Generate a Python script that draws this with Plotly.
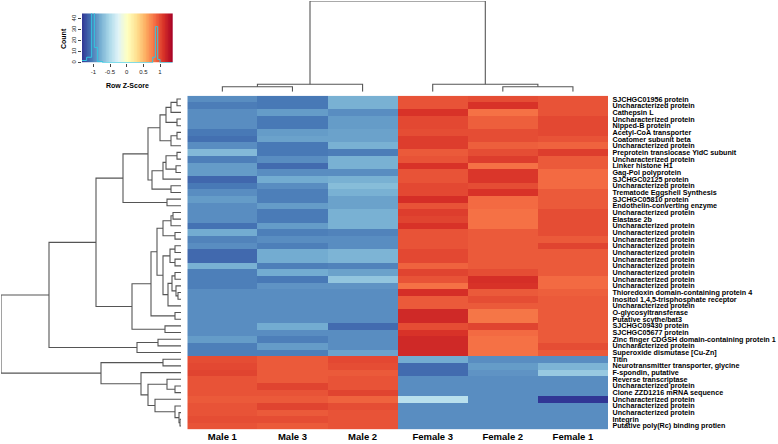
import plotly.graph_objects as go

W, H = 778, 444

samples = ["Male 1", "Male 3", "Male 2", "Female 3", "Female 2", "Female 1"]

genes = [
    "SJCHGC01956 protein", "Uncharacterized protein", "Cathepsin L", "Uncharacterized protein",
    "Nipped-B protein", "Acetyl-CoA transporter", "Coatomer subunit beta", "Uncharacterized protein",
    "Preprotein translocase YidC subunit", "Uncharacterized protein", "Linker histone H1",
    "Gag-Pol polyprotein", "SJCHGC02125 protein", "Uncharacterized protein",
    "Trematode Eggshell Synthesis", "SJCHGC05810 protein", "Endothelin-converting enzyme",
    "Uncharacterized protein", "Elastase 2b",
    "Uncharacterized protein", "Uncharacterized protein", "Uncharacterized protein",
    "Uncharacterized protein", "Uncharacterized protein", "Uncharacterized protein",
    "Uncharacterized protein", "Uncharacterized protein", "Uncharacterized protein",
    "Uncharacterized protein",
    "Thioredoxin domain-containing protein 4", "Inositol 1,4,5-trisphosphate receptor",
    "Uncharacterized protein", "O-glycosyltransferase", "Putative scythe/bat3",
    "SJCHGC09430 protein", "SJCHGC05677 protein", "Zinc finger CDGSH domain-containing protein 1",
    "Uncharacterized protein", "Superoxide dismutase [Cu-Zn]",
    "Titin", "Neurotransmitter transporter, glycine", "F-spondin, putative", "Reverse transcriptase",
    "Uncharacterized protein", "Clone ZZD1216 mRNA sequence", "Uncharacterized protein",
    "Uncharacterized protein", "Uncharacterized protein", "Integrin",
    "Putative poly(Rc) binding protien",
]

# Row z-scores (columns in display order: Male 1, Male 3, Male 2, Female 3, Female 2, Female 1)
zscores = [
    [-0.95, -1.05, -0.77, 0.95, 0.98, 0.95],
    [-1.03, -1.05, -0.77, 0.95, 1.10, 0.95],
    [-0.95, -0.88, -0.95, 1.10, 0.82, 0.95],
    [-0.95, -1.05, -0.88, 1.00, 0.90, 1.00],
    [-0.95, -1.05, -0.88, 1.00, 0.90, 1.00],
    [-1.05, -0.88, -0.85, 0.98, 0.98, 1.00],
    [-1.09, -0.85, -0.85, 1.05, 0.98, 0.95],
    [-0.95, -1.05, -0.77, 1.05, 0.90, 0.88],
    [-0.72, -1.05, -1.03, 0.92, 0.98, 1.05],
    [-1.02, -0.95, -0.77, 0.95, 1.05, 0.92],
    [-0.88, -1.11, -0.77, 1.10, 0.82, 0.92],
    [-0.88, -0.95, -0.95, 0.95, 1.08, 0.85],
    [-1.13, -0.80, -0.77, 0.95, 1.08, 0.85],
    [-1.05, -0.95, -0.70, 1.00, 0.98, 0.85],
    [-0.95, -1.02, -0.77, 1.00, 1.10, 0.92],
    [-0.88, -1.02, -0.85, 1.12, 0.85, 0.92],
    [-0.95, -0.88, -0.85, 0.95, 0.85, 0.92],
    [-0.95, -1.04, -0.77, 1.05, 0.82, 0.98],
    [-0.95, -1.04, -0.77, 1.02, 0.82, 0.98],
    [-1.08, -0.88, -0.77, 1.10, 0.82, 0.98],
    [-0.80, -1.02, -1.00, 0.95, 0.92, 0.98],
    [-1.00, -0.95, -0.95, 0.95, 0.92, 0.92],
    [-0.95, -1.02, -0.95, 0.95, 0.92, 1.02],
    [-1.12, -0.80, -0.75, 1.00, 0.92, 0.92],
    [-1.12, -0.80, -0.75, 1.00, 0.92, 0.92],
    [-0.77, -1.02, -1.00, 0.88, 0.92, 0.92],
    [-1.02, -0.80, -0.85, 1.02, 0.98, 0.92],
    [-1.02, -1.05, -0.65, 0.95, 1.12, 0.85],
    [-1.02, -0.92, -0.92, 0.82, 1.10, 0.85],
    [-0.95, -0.95, -0.95, 1.12, 0.92, 0.90],
    [-0.95, -0.95, -0.95, 0.92, 0.98, 0.92],
    [-0.95, -0.95, -0.95, 0.92, 0.92, 0.92],
    [-0.95, -0.95, -0.95, 1.15, 0.80, 0.92],
    [-0.95, -0.95, -0.95, 1.15, 0.80, 0.92],
    [-0.95, -0.80, -1.11, 0.98, 1.02, 0.92],
    [-0.95, -0.95, -0.95, 1.10, 0.85, 0.92],
    [-0.88, -1.02, -0.95, 1.15, 0.82, 0.92],
    [-1.02, -0.88, -0.95, 1.15, 0.82, 0.98],
    [-1.02, -1.02, -0.85, 1.15, 0.82, 0.92],
    [0.98, 0.92, 1.00, -0.80, -0.95, -0.95],
    [1.00, 0.92, 0.98, -1.11, -0.88, -0.75],
    [1.02, 0.92, 0.92, -1.11, -0.92, -0.62],
    [0.95, 0.92, 0.95, -0.95, -0.95, -0.95],
    [0.95, 1.02, 0.95, -0.95, -0.95, -0.95],
    [0.95, 0.95, 1.02, -0.95, -0.95, -0.95],
    [0.92, 0.92, 0.88, -0.45, -0.95, -1.35],
    [0.95, 1.02, 0.98, -0.95, -0.95, -0.95],
    [0.95, 0.92, 0.95, -0.95, -0.95, -0.95],
    [0.98, 0.98, 0.95, -0.95, -0.95, -0.95],
    [0.95, 0.92, 0.95, -0.95, -0.95, -0.95],
]

# Column dendrogram: [left, right, height]; leaves are 1-based display positions
col_tree = [[[1, 2, 0.5], 3, 0.74], [4, [5, 6, 0.5], 0.74], 9.07]

# Row dendrogram: [left, right, height]; leaves are 1-based row numbers
rows_1_15 = [[[[[1, 2, 0.4], 3, 1.0], [4, 5, 0.4], 1.5], [[6, 7, 0.4], 8, 1.0], 2.1],
             [[[[9, 10, 0.4], [11, 12, 0.5], 1.5], 13, 1.8], [14, 15, 1.0], 2.9], 3.3]
rows_1_17 = [rows_1_15, [16, 17, 1.4], 5.8]
rows_18_22 = [[[18, 19, 0.8], 20, 1.0], [21, 22, 0.6], 1.8]
rows_23_32 = [[[23, 24, 0.6], [25, 26, 0.6], 1.1],
              [[[27, 28, 0.6], [29, [30, 31, 0.3], 0.5], 0.9], 32, 1.3], 1.8]
rows_18_36 = [[[rows_18_22, rows_23_32, 2.4], [33, 34, 0.6], 3.0], [35, 36, 1.6], 4.9]
rows_37_39 = [[37, 38, 2.3], 39, 4.4]
rows_top = [[rows_1_17, rows_18_36, 8.5], rows_37_39, 13.2]
rows_46_50 = [46, [47, [48, [49, 50, 0.1], 0.2], 0.6], 2.6]
rows_40_50 = [[40, 41, 1.8], [42, [[43, [44, 45, 0.6], 1.4], rows_46_50, 3.3], 4.0], 8.0]
row_tree = [rows_top, rows_40_50, 18.0]

# Colour key histogram (step outline)
hist_edges = [-1.34, -1.2, -1.05, -0.97, -0.87, -0.72, 0.78, 0.86, 0.93, 1.0, 1.38]
hist_counts = [2, 5, 46, 14, 1, 0, 5, 33, 3, 0]
key_ticks = [-1, -0.5, 0, 0.5, 1]
count_ticks = [0, 10, 20, 30, 40]

ZMIN, ZMAX = -1.34, 1.38
rdylbu = ["#313695", "#4575b4", "#74add1", "#abd9e9", "#e0f3f8", "#ffffbf",
          "#fee090", "#fdae61", "#f46d43", "#d73027", "#a50026"]
cscale = [[i / (len(rdylbu) - 1), c] for i, c in enumerate(rdylbu)]

FONT = "Liberation Sans, Arial, sans-serif"


def fx(px):
    return px / W


def fy(py):
    return 1 - py / H


def dendro_segments(node, out):
    """Return (position, height) of node, appending rectangle segments (pos, height)."""
    if not isinstance(node, list):
        return float(node - 1), 0.0
    left, right, h = node
    p1, h1 = dendro_segments(left, out)
    p2, h2 = dendro_segments(right, out)
    out.append([(p1, h1), (p1, h), (p2, h), (p2, h2)])
    return (p1 + p2) / 2, h


fig = go.Figure()

# Main heatmap
fig.add_trace(go.Heatmap(
    z=zscores, x=list(range(len(samples))), y=list(range(len(genes))),
    zmin=ZMIN, zmax=ZMAX, colorscale=cscale, showscale=False,
    xaxis="x", yaxis="y", hoverinfo="skip",
))

# Column dendrogram
segs = []
dendro_segments(col_tree, segs)
xs, ys = [], []
for s in segs:
    for p, h in s:
        xs.append(p)
        ys.append(h)
    xs.append(None)
    ys.append(None)
fig.add_trace(go.Scatter(x=xs, y=ys, mode="lines", line=dict(color="#555555", width=1.1),
                         xaxis="x2", yaxis="y2", hoverinfo="skip", showlegend=False))

# Row dendrogram
segs = []
dendro_segments(row_tree, segs)
xs, ys = [], []
for s in segs:
    for p, h in s:
        xs.append(h)
        ys.append(p)
    xs.append(None)
    ys.append(None)
fig.add_trace(go.Scatter(x=xs, y=ys, mode="lines", line=dict(color="#555555", width=1.1),
                         xaxis="x3", yaxis="y3", hoverinfo="skip", showlegend=False))

# Colour key
nkey = 120
key_edges = [ZMIN + (ZMAX - ZMIN) * i / nkey for i in range(nkey + 1)]
key_vals = [(key_edges[i] + key_edges[i + 1]) / 2 for i in range(nkey)]
fig.add_trace(go.Heatmap(
    z=[key_vals], x=key_edges, y=[0, 45.2], zmin=ZMIN, zmax=ZMAX,
    colorscale=cscale, showscale=False, xaxis="x4", yaxis="y4", hoverinfo="skip",
))
fig.add_trace(go.Scatter(
    x=hist_edges, y=hist_counts + [hist_counts[-1]], mode="lines",
    line=dict(color="#33c7e0", width=1, shape="hv"),
    xaxis="x4", yaxis="y4", hoverinfo="skip", showlegend=False,
))

hm_x = [fx(187.3), fx(608)]
hm_y = [fy(429.3), fy(95.7)]

fig.update_layout(
    width=W, height=H, autosize=False,
    margin=dict(l=0, r=0, t=0, b=0, pad=0),
    paper_bgcolor="white", plot_bgcolor="white",
    showlegend=False,
    font=dict(family=FONT, color="black"),
    xaxis=dict(domain=hm_x, range=[-0.5, 5.5], tickmode="array", automargin=False,
               tickvals=list(range(len(samples))),
               ticktext=["<b>%s</b>" % s for s in samples],
               tickfont=dict(size=9.5, family=FONT, color="black"),
               ticks="", showgrid=False, zeroline=False, showline=False, fixedrange=True),
    yaxis=dict(domain=hm_y, range=[len(genes) - 0.5, -0.5], side="right", automargin=False,
               tickmode="array", tickvals=list(range(len(genes))),
               ticktext=["<b>%s</b>" % g for g in genes],
               tickfont=dict(size=7.2, family=FONT, color="black"),
               ticks="outside", ticklen=2, tickcolor="rgba(0,0,0,0)",
               showgrid=False, zeroline=False, showline=False, fixedrange=True),
    xaxis2=dict(domain=hm_x, range=[-0.5, 5.5], anchor="y2", visible=False, automargin=False),
    yaxis2=dict(domain=[fy(91.7), fy(1)], range=[0, 9.07], anchor="x2", visible=False,
                automargin=False),
    xaxis3=dict(domain=[fx(1), fx(181)], range=[18.0, 0], anchor="y3", visible=False,
                automargin=False),
    yaxis3=dict(domain=hm_y, range=[len(genes) - 0.5, -0.5], anchor="x3", visible=False,
                automargin=False),
    xaxis4=dict(domain=[fx(82), fx(172.7)], range=[ZMIN, ZMAX], anchor="y4", automargin=False,
                tickmode="array", tickvals=key_ticks,
                ticktext=["%g" % t for t in key_ticks],
                tickfont=dict(size=6, family=FONT, color="#222"),
                ticks="outside", ticklen=3, tickcolor="#444", tickwidth=0.6,
                showgrid=False, zeroline=False, showline=False),
    yaxis4=dict(domain=[fy(62.7), fy(13.3)], range=[0, 45.2], anchor="x4", automargin=False,
                tickmode="array", tickvals=count_ticks,
                ticktext=[str(t) for t in count_ticks], tickangle=-90,
                tickfont=dict(size=6, family=FONT, color="#222"),
                ticks="outside", ticklen=3, tickcolor="#444", tickwidth=0.6,
                showgrid=False, zeroline=False, showline=False),
    annotations=[
        dict(text="<b>Row Z-Score</b>", x=fx(127.5), y=fy(85.5), xref="paper", yref="paper",
             showarrow=False, font=dict(size=7, family=FONT, color="black"),
             xanchor="center", yanchor="middle"),
        dict(text="<b>Count</b>", x=fx(63), y=fy(38), xref="paper", yref="paper",
             showarrow=False, textangle=-90, font=dict(size=7, family=FONT, color="black"),
             xanchor="center", yanchor="middle"),
    ],
)

fig.write_html("out.html", config={"displayModeBar": False},
               post_script="document.body.style.margin='0px';")
